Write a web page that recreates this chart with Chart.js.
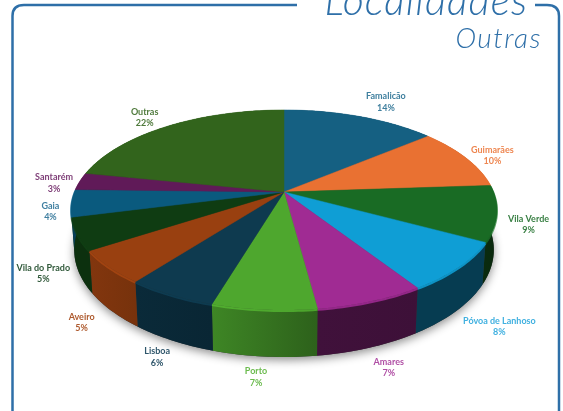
<!DOCTYPE html>
<html>
<head>
<meta charset="utf-8">
<title>Localidades - Outras</title>
<script src="https://cdn.jsdelivr.net/npm/chart.js@4"></script>
<style>
    html, body { margin: 0; padding: 0; background: #fff; overflow: hidden; }
    #wrap { position: relative; width: 563px; height: 411px; }
    canvas { display: block; }
</style>
</head>
<body>
<div id="wrap"><canvas id="chart" width="563" height="411"></canvas></div>
<script>
const titleText = 'Localidades';
const subtitleText = 'Outras';
const localidades = ['Famalicão', 'Guimarães', 'Vila Verde', 'Póvoa de Lanhoso', 'Amares', 'Porto', 'Lisboa', 'Aveiro', 'Vila do Prado', 'Gaia', 'Santarém', 'Outras'];
const percentagens = [13.9, 10, 9, 8, 7, 6.7, 5.8, 5.4, 5.2, 4.4, 2.8, 21.8];

const sliceColors = ['#156082', '#E97132', '#196B24', '#0F9ED5', '#A02B93', '#4EA72E', '#0E3A4F', '#994010', '#0F3C12', '#0A5A7E', '#601A58', '#32641C'];
const labelColors = ['#3F7F9E', '#EE8650', '#3A8045', '#3FB0E0', '#B04FA5', '#6BBB4E', '#2F566B', '#AE5A2E', '#30593A', '#3F7FA0', '#7F3F78', '#4F7A3C'];
// nudges from the point just outside the rim to where the label sits
const labelNudge = [[18, -7], [6, 1.5], [5, -1], [16, 15], [5, 0], [-5, -4], [3, 0.5], [-3, 11], [-7, 15], [5, 2], [-2, 3], [-11, -2]];
// how dark the side wall gets at the left and right end of each slice
const wallShade = [[0.4, 0.4], [0.4, 0.4], [0.4, 0.38], [0.38, 0.38], [0.4, 0.38], [0.8, 0.58], [0.72, 0.66], [0.85, 0.78], [0.8, 0.8], [0.7, 0.7], [0.5, 0.5], [0.5, 0.5]];

// perspective view of the disc
const view = { cx: 284, cy: 192, rx: 209.5, ry: 96.8, k: 0.18, depth: 38.5, shrink: 0.985 };

function project(angle, rho) {
    const u = rho * Math.cos(angle);
    const v = rho * Math.sin(angle);
    const w = 1 - view.k * v;
    return { x: view.cx + view.rx * u / w, y: view.cy + view.ry * v / w, v: v, w: w };
}

function lower(p) {
    return { x: view.cx + (p.x - view.cx) * view.shrink, y: p.y + view.depth / p.w };
}

function shade(hex, f) {
    const n = parseInt(hex.slice(1), 16);
    const r = Math.min(255, Math.round(((n >> 16) & 255) * f));
    const g = Math.min(255, Math.round(((n >> 8) & 255) * f));
    const b = Math.min(255, Math.round((n & 255) * f));
    return `rgb(${r},${g},${b})`;
}

function arcPoints(a0, a1) {
    const pts = [];
    const steps = Math.max(4, Math.ceil((a1 - a0) / 0.02));
    for (let i = 0; i <= steps; i++) {
        pts.push(project(a0 + (a1 - a0) * i / steps, 1));
    }
    return pts;
}

function wallGradient(ctx, top, color, f) {
    const xs = top.map(p => p.x);
    const g = ctx.createLinearGradient(Math.min(...xs), 0, Math.max(...xs) + 0.01, 0);
    g.addColorStop(0, shade(color, f[0]));
    g.addColorStop(1, shade(color, f[1]));
    return g;
}

const pie3d = {
    id: 'pie3d',
    beforeDraw(chart) {
        const ctx = chart.ctx;
        ctx.save();
        ctx.fillStyle = '#fff';
        ctx.fillRect(0, 0, chart.width, chart.height);
        // frame with the gap for the title
        ctx.strokeStyle = '#2E6FA8';
        ctx.lineWidth = 2.5;
        ctx.beginPath();
        ctx.moveTo(297, 5);
        ctx.lineTo(24, 5);
        ctx.quadraticCurveTo(12.5, 5, 12.5, 16);
        ctx.lineTo(12.5, 420);
        ctx.moveTo(535, 5);
        ctx.lineTo(547, 5);
        ctx.quadraticCurveTo(559, 5, 559, 16);
        ctx.lineTo(559, 420);
        ctx.stroke();
        // titles
        ctx.fillStyle = '#2E6FA8';
        ctx.textAlign = 'right';
        ctx.textBaseline = 'alphabetic';
        ctx.font = 'italic 300 41px Lato';
        ctx.letterSpacing = '1px';
        ctx.fillText(titleText, 528, 15);
        ctx.font = 'italic 300 28px Lato';
        ctx.letterSpacing = '1.5px';
        ctx.fillText(subtitleText, 542, 48);
        ctx.restore();
    },
    beforeDatasetsDraw(chart) {
        const ctx = chart.ctx;
        const arcs = chart.getDatasetMeta(0).data;
        ctx.save();

        // soft shadow under the pie
        ctx.save();
        ctx.shadowColor = 'rgba(0,0,0,0.45)';
        ctx.shadowBlur = 10;
        ctx.shadowOffsetY = 3;
        ctx.fillStyle = '#333';
        ctx.beginPath();
        arcPoints(0, Math.PI * 2).map(lower).forEach((p, i) => i ? ctx.lineTo(p.x, p.y) : ctx.moveTo(p.x, p.y));
        ctx.closePath();
        ctx.fill();
        ctx.restore();

        // side wall
        arcs.forEach((arc, i) => {
            const top = arcPoints(arc.startAngle, arc.endAngle);
            ctx.fillStyle = wallGradient(ctx, top, sliceColors[i], wallShade[i]);
            ctx.beginPath();
            top.forEach((p, j) => j ? ctx.lineTo(p.x, p.y) : ctx.moveTo(p.x, p.y));
            top.slice().reverse().map(lower).forEach(p => ctx.lineTo(p.x, p.y));
            ctx.closePath();
            ctx.fill();
        });

        // bevel along the rim
        arcs.forEach((arc, i) => {
            const top = arcPoints(arc.startAngle, arc.endAngle);
            ctx.strokeStyle = shade(sliceColors[i], 1.15);
            ctx.globalAlpha = 0.7;
            ctx.lineWidth = 2;
            ctx.beginPath();
            top.forEach((p, j) => j ? ctx.lineTo(p.x, p.y + 1) : ctx.moveTo(p.x, p.y + 1));
            ctx.stroke();
            ctx.globalAlpha = 1;
        });

        // top of the pie
        arcs.forEach((arc, i) => {
            ctx.fillStyle = sliceColors[i];
            ctx.strokeStyle = sliceColors[i];
            ctx.lineWidth = 0.5;
            ctx.beginPath();
            ctx.moveTo(view.cx, view.cy);
            arcPoints(arc.startAngle, arc.endAngle).forEach(p => ctx.lineTo(p.x, p.y));
            ctx.closePath();
            ctx.fill();
            ctx.stroke();
        });

        // labels
        ctx.textAlign = 'center';
        ctx.textBaseline = 'middle';
        ctx.font = 'bold 9px Lato';
        arcs.forEach((arc, i) => {
            const mid = (arc.startAngle + arc.endAngle) / 2;
            const p = project(mid, 1.12);
            const drop = Math.max(0, p.v) * view.depth / p.w;
            const x = p.x + labelNudge[i][0];
            const y = p.y + drop + labelNudge[i][1];
            ctx.fillStyle = labelColors[i];
            ctx.fillText(localidades[i], x, y - 5.75);
            ctx.fillText(Math.round(percentagens[i]) + '%', x, y + 5.75);
        });

        ctx.restore();
        return false;
    }
};

new Chart(document.getElementById('chart'), {
    type: 'pie',
    data: {
        labels: localidades,
        datasets: [{
            data: percentagens,
            backgroundColor: sliceColors
        }]
    },
    options: {
        responsive: false,
        animation: false,
        plugins: {
            legend: { display: false },
            tooltip: { enabled: false }
        }
    },
    plugins: [pie3d]
});
</script>
</body>
</html>
